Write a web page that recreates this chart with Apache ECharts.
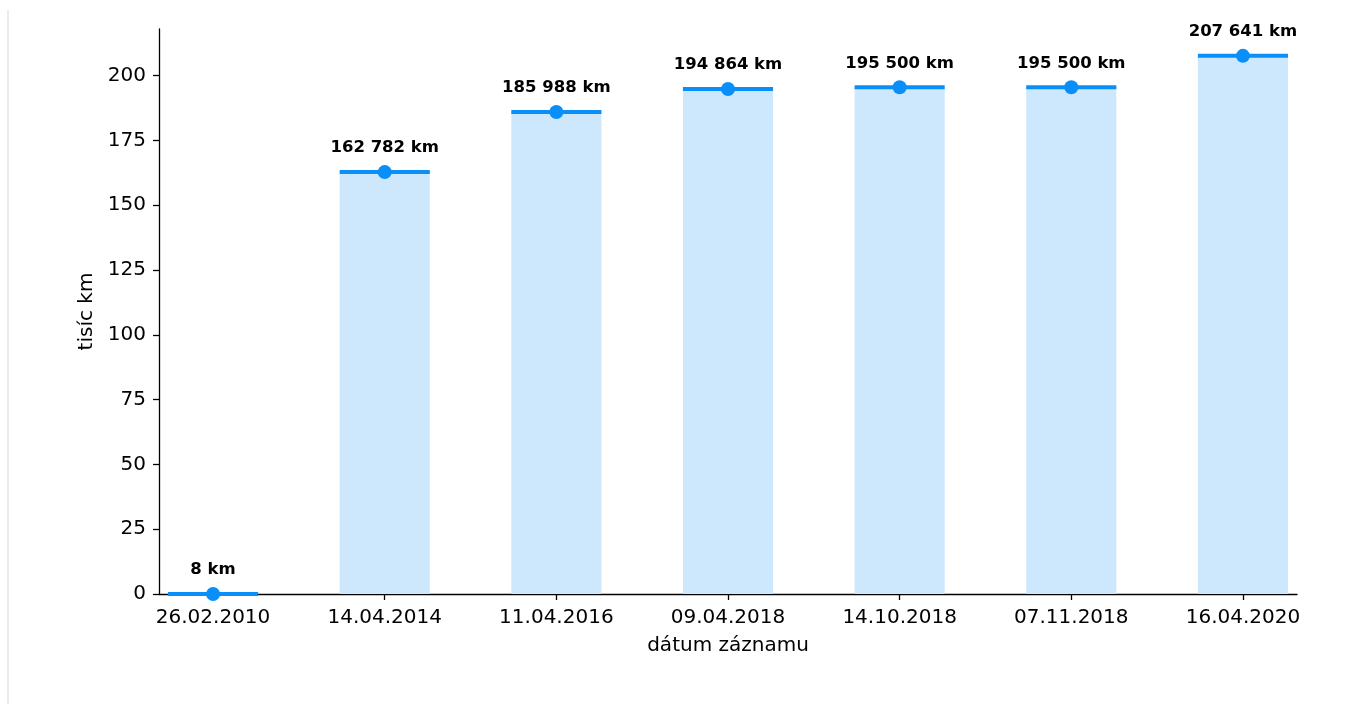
<!DOCTYPE html>
<html>
<head>
<meta charset="utf-8">
<script src="https://cdn.jsdelivr.net/npm/echarts@6/dist/echarts.min.js"></script>
<style>
  html, body { margin: 0; padding: 0; background: #fff; }
  #chart { width: 1360px; height: 704px; }
</style>
</head>
<body>
<div id="chart"></div>
<script>
// Odometer readings by record date
const dates = ['26.02.2010', '14.04.2014', '11.04.2016', '09.04.2018', '14.10.2018', '07.11.2018', '16.04.2020'];
const kmValues = [8, 162782, 185988, 194864, 195500, 195500, 207641];
const yTicks = [0, 25, 50, 75, 100, 125, 150, 175, 200];

const FONT = 'DejaVu Sans';
const BAR_FILL = '#cde8fd';
const LINE_BLUE = '#0a8ff8';
const BAR_WIDTH = 0.525; // in category units

function fmtKm(v) {
  return String(v).replace(/\B(?=(\d{3})+(?!\d))/g, ' ') + ' km';
}

const points = kmValues.map((v, i) => [i, v / 1000, v]);
const idx = dates.map((_, i) => i);

const chart = echarts.init(document.getElementById('chart'), null, { renderer: 'canvas' });

chart.setOption({
  animation: false,
  backgroundColor: '#fff',
  grid: { left: 159, right: 63, top: 29, bottom: 110, containLabel: false },
  graphic: [{
    type: 'rect',
    shape: { x: 7, y: 10, width: 2, height: 700 },
    style: { fill: '#ebebeb' },
    silent: true
  }],
  xAxis: {
    type: 'value',
    min: -0.315,
    max: 6.315,
    name: 'dátum záznamu',
    nameLocation: 'middle',
    nameGap: 42,
    nameTextStyle: { fontFamily: FONT, fontSize: 20, color: '#000' },
    splitLine: { show: false },
    axisLine: { show: true, onZero: false, lineStyle: { color: '#000', width: 1.3 } },
    axisTick: { show: true, customValues: idx, length: 6, lineStyle: { color: '#000', width: 1.3 } },
    axisLabel: {
      customValues: idx,
      margin: 14,
      fontFamily: FONT, fontSize: 20, color: '#000',
      formatter: v => dates[Math.round(v)]
    }
  },
  yAxis: {
    type: 'value',
    min: 0,
    max: 218,
    name: 'tisíc km',
    nameLocation: 'middle',
    nameGap: 62,
    nameTextStyle: { fontFamily: FONT, fontSize: 20, color: '#000' },
    splitLine: { show: false },
    axisLine: { show: true, onZero: false, lineStyle: { color: '#000', width: 1.3 } },
    axisTick: { show: true, customValues: yTicks, length: 6, lineStyle: { color: '#000', width: 1.3 } },
    axisLabel: {
      customValues: yTicks,
      margin: 13,
      fontFamily: FONT, fontSize: 20, color: '#000'
    }
  },
  series: [{
    type: 'custom',
    coordinateSystem: 'cartesian2d',
    data: points,
    encode: { x: 0, y: 1 },
    clip: false,
    renderItem: function (params, api) {
      const i = api.value(0);
      const top = api.coord([i, api.value(1)]);
      const base = api.coord([i, 0]);
      const w = api.size([BAR_WIDTH, 0])[0];
      const x0 = top[0] - w / 2;
      return {
        type: 'group',
        children: [
          {
            type: 'rect',
            shape: { x: x0, y: top[1], width: w, height: base[1] - top[1] },
            style: { fill: BAR_FILL }
          },
          {
            type: 'line',
            shape: { x1: x0, y1: top[1], x2: x0 + w, y2: top[1] },
            style: { stroke: LINE_BLUE, lineWidth: 4 }
          },
          {
            type: 'circle',
            shape: { cx: top[0], cy: top[1], r: 7 },
            style: { fill: LINE_BLUE }
          },
          {
            type: 'text',
            x: top[0],
            y: top[1] - 24,
            style: {
              text: fmtKm(api.value(2)),
              fontFamily: FONT,
              fontSize: 16.5,
              fontWeight: 'bold',
              fill: '#000',
              align: 'center',
              verticalAlign: 'middle'
            }
          }
        ]
      };
    }
  }]
});
</script>
</body>
</html>
